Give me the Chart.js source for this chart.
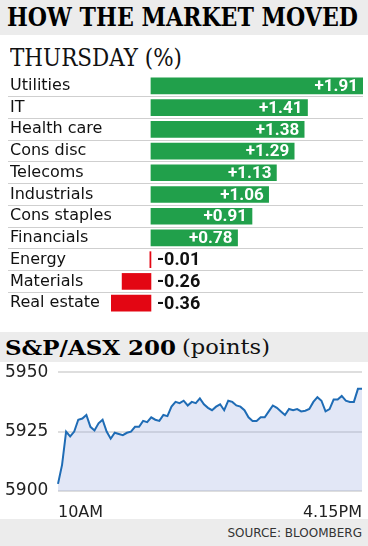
<!DOCTYPE html>
<html>
<head>
<meta charset="utf-8">
<script src="https://cdn.jsdelivr.net/npm/chart.js@4.4.1/dist/chart.umd.min.js"></script>
<style>
  html, body { margin: 0; padding: 0; background: #fff; }
  body { width: 368px; height: 546px; position: relative; overflow: hidden; }
  .band { position: absolute; left: 0; width: 368px; background: #ececec; }
  .fit { position: absolute; white-space: nowrap; line-height: 1; display: inline-block; }
  .slab { font-family: "DejaVu Serif", serif; font-weight: bold; color: #000; }
  .serif { font-family: "DejaVu Serif", serif; font-weight: normal; color: #111; }
  canvas { position: absolute; left: 0; }
</style>
</head>
<body>
  <div class="band" style="top:0;height:35px;"></div>
  <span class="fit slab" data-w="351" style="left:7px;top:4px;font-size:26px;">HOW THE MARKET MOVED</span>
  <span class="fit serif" data-w="172" style="left:10px;top:46px;font-size:24px;">THURSDAY (%)</span>

  <div style="position:absolute;top:75px;left:0;width:368px;height:239px;">
    <canvas id="sectorChart"></canvas>
  </div>

  <div class="band" style="top:332px;height:30px;"></div>
  <span class="fit slab" data-w="171" style="left:5px;top:337px;font-size:21px;">S&amp;P/ASX 200</span>
  <span class="fit serif" data-w="88" style="left:182px;top:337px;font-size:21px;">(points)</span>

  <div style="position:absolute;top:362px;left:0;width:368px;height:156px;">
    <canvas id="indexChart"></canvas>
  </div>

  <div class="band" style="top:519px;height:27px;"></div>
  <span style="position:absolute;right:6px;top:526px;font:12px 'DejaVu Sans',sans-serif;color:#333;">SOURCE: BLOOMBERG</span>

<script>
// sector moves, Thursday (%)
const sectors = ['Utilities', 'IT', 'Health care', 'Cons disc', 'Telecoms', 'Industrials',
                 'Cons staples', 'Financials', 'Energy', 'Materials', 'Real estate'];
const sectorMoves = [1.91, 1.41, 1.38, 1.29, 1.13, 1.06, 0.91, 0.78, -0.01, -0.26, -0.36];

// S&P/ASX 200 intraday, 5 minute steps from 10AM to 4.15PM
const asxPoints = [
  5903, 5911, 5925, 5923, 5925, 5930, 5930.5, 5932, 5927, 5925.5,
  5928.5, 5930, 5925, 5922, 5924.5, 5924, 5923.5, 5924.5, 5925, 5927,
  5927, 5929.5, 5929, 5931, 5930, 5929.5, 5932, 5931.5, 5935.5, 5937.5,
  5937, 5938, 5936, 5937.5, 5937, 5939, 5936.5, 5935, 5934, 5935.5,
  5936.5, 5934, 5938, 5937.5, 5936, 5935.5, 5934, 5931, 5929.5, 5929.5,
  5931, 5931, 5933.5, 5936, 5935, 5933.5, 5932, 5934.5, 5934, 5934.5,
  5933.5, 5933.8, 5934.5, 5937.5, 5939.5, 5938, 5933.5, 5934.5, 5938.5, 5938.5,
  5940, 5938, 5937.5, 5937.5, 5943, 5943
];
const asxTicks = [5900, 5925, 5950];
const timeTicks = ['10AM', '4.15PM'];

const timeLabels = asxPoints.map((_, i) => {
  const m = 600 + i * 5;
  return Math.floor(m / 60) + ':' + String(m % 60).padStart(2, '0');
});

const GREEN = '#21a04b';
const RED = '#e30613';

document.addEventListener('DOMContentLoaded', () => {
  fitHeadings();
  initSectorChart();
  initIndexChart();
});

function fitHeadings() {
  document.querySelectorAll('.fit').forEach(el => {
    const w = el.getBoundingClientRect().width;
    el.style.transformOrigin = 'left top';
    el.style.transform = 'scaleX(' + (el.dataset.w / w) + ')';
  });
}

const valueLabels = {
  id: 'valueLabels',
  afterDatasetsDraw(chart) {
    const c = chart.ctx;
    const zero = chart.scales.x.getPixelForValue(0);
    chart.getDatasetMeta(0).data.forEach((bar, i) => {
      const v = sectorMoves[i];
      c.save();
      c.textBaseline = 'middle';
      if (v >= 0) {
        c.font = 'bold 17px Roboto, sans-serif';
        c.fillStyle = '#fff';
        c.textAlign = 'right';
        c.fillText('+' + v.toFixed(2), bar.x - 5, bar.y + 1);
      } else {
        c.font = 'bold 18px Roboto, sans-serif';
        c.fillStyle = '#111';
        c.textAlign = 'left';
        c.fillText(v.toFixed(2), zero + 6, bar.y + 1);
      }
      c.restore();
    });
  }
};

function initSectorChart() {
  const ctx = document.getElementById('sectorChart');
  new Chart(ctx.getContext('2d'), {
    type: 'bar',
    data: {
      labels: sectors,
      datasets: [{
        data: sectorMoves,
        backgroundColor: sectorMoves.map(v => v >= 0 ? GREEN : RED),
        barThickness: 16,
        borderWidth: 0
      }]
    },
    options: {
      indexAxis: 'y',
      responsive: true,
      maintainAspectRatio: false,
      animation: false,
      layout: { padding: { left: 10, right: 5, top: 0, bottom: 0 } },
      plugins: { legend: { display: false }, tooltip: { enabled: false } },
      scales: {
        x: { display: false, min: -0.36, max: 1.91 },
        y: {
          afterFit: s => { s.width = 101; s.paddingTop = 0; s.paddingBottom = 0; },
          border: { display: false },
          grid: {
            offset: true,
            drawTicks: true,
            tickLength: 103,
            lineWidth: 1,
            color: c => (c.index > 0 && c.index < sectors.length) ? '#cfcfcf' : 'rgba(0,0,0,0)'
          },
          ticks: {
            autoSkip: false,
            crossAlign: 'far',
            padding: 0,
            color: '#111',
            font: { family: 'DejaVu Sans', size: 16 }
          }
        }
      }
    },
    plugins: [valueLabels]
  });
}

function initIndexChart() {
  const ctx = document.getElementById('indexChart');
  new Chart(ctx.getContext('2d'), {
    type: 'line',
    data: {
      labels: timeLabels,
      datasets: [{
        data: asxPoints,
        borderColor: '#1f6cb5',
        borderWidth: 2,
        backgroundColor: 'rgba(160,176,226,0.3)',
        fill: 'start',
        pointRadius: 0,
        tension: 0
      }]
    },
    options: {
      responsive: true,
      maintainAspectRatio: false,
      animation: false,
      layout: { padding: { left: 5, right: 6, top: 10, bottom: 0 } },
      plugins: { legend: { display: false }, tooltip: { enabled: false } },
      scales: {
        y: {
          min: asxTicks[0],
          max: asxTicks[asxTicks.length - 1],
          afterFit: s => { s.width = 53; },
          afterBuildTicks: s => { s.ticks = asxTicks.map(v => ({ value: v })); },
          border: { display: false },
          grid: { color: '#dedede', lineWidth: 2, drawTicks: false },
          ticks: {
            crossAlign: 'far',
            padding: 0,
            color: '#222',
            font: { family: 'DejaVu Sans', size: 17 },
            callback: v => String(v)
          }
        },
        x: {
          afterFit: s => { s.height = 27; },
          border: { display: false },
          grid: { display: false },
          ticks: {
            autoSkip: false,
            maxRotation: 0,
            minRotation: 0,
            align: 'inner',
            padding: 4,
            color: '#222',
            font: { family: 'DejaVu Sans', size: 16 },
            callback: (v, i) => i === 0 ? timeTicks[0] : (i === timeLabels.length - 1 ? timeTicks[1] : '')
          }
        }
      }
    }
  });
}
</script>
</body>
</html>
